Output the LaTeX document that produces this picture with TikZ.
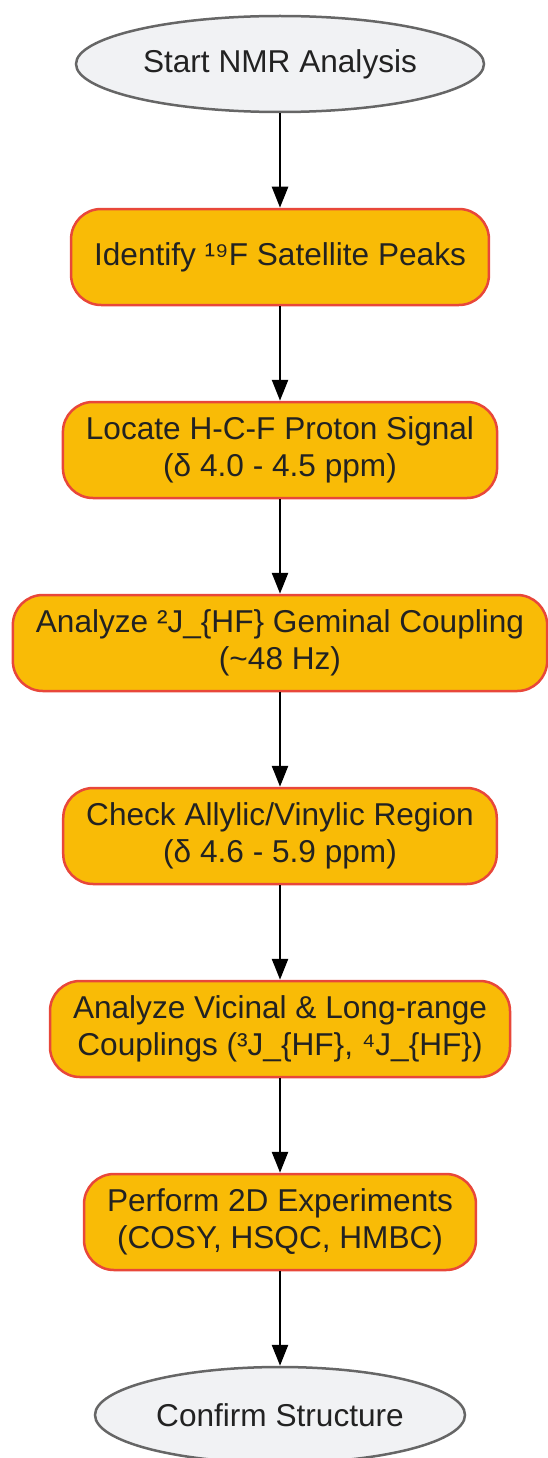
\documentclass[tikz,border=0pt]{standalone}
\usepackage{fontspec}
\setmainfont{Liberation Sans}
\usetikzlibrary{arrows.meta,positioning,shapes.geometric}
\definecolor{stepfill}{HTML}{F9BB06}
\definecolor{stepdraw}{HTML}{E8473A}
\definecolor{termfill}{HTML}{F1F2F4}
\definecolor{termdraw}{HTML}{666666}
\definecolor{txt}{HTML}{222222}

\begin{document}
\begin{tikzpicture}[x=1pt,y=-1pt,node distance=193pt,on grid,
    every node/.style={text=txt,font=\fontsize{31.6}{37}\selectfont,align=center}]
  \tikzstyle{nodeT}=[ellipse,line width=2.5pt,draw=termdraw,fill=termfill,inner sep=0pt,minimum height=96pt]
  \tikzstyle{nodeS}=[rectangle,rounded corners=30pt,line width=2.5pt,draw=stepdraw,fill=stepfill,inner xsep=23pt,minimum height=96pt]
  \tikzstyle{flow}=[line width=2.5pt,-{Triangle[length=21pt,width=16pt]}]

  \useasboundingbox (0,0) rectangle (547,1458);

  \node[nodeT,minimum width=408pt] (start)     at (280,64) {Start NMR Analysis};
  \node[nodeS] (satellite) [below=of start]     {Identify ¹⁹F Satellite Peaks};
  \node[nodeS] (locate)    [below=of satellite] {Locate H-C-F Proton Signal\\(δ 4.0 - 4.5 ppm)};
  \node[nodeS] (geminal)   [below=of locate]    {Analyze ²J\_\{HF\} Geminal Coupling\\(\textasciitilde{}48 Hz)};
  \node[nodeS] (allylic)   [below=of geminal]   {Check Allylic/Vinylic Region\\(δ 4.6 - 5.9 ppm)};
  \node[nodeS] (vicinal)   [below=of allylic]   {Analyze Vicinal \& Long-range\\Couplings (³J\_\{HF\}, ⁴J\_\{HF\})};
  \node[nodeS] (twod)      [below=of vicinal]   {Perform 2D Experiments\\(COSY, HSQC, HMBC)};
  \node[nodeT,minimum width=370pt] (confirm) [below=of twod] {Confirm Structure};

  \draw[flow] (start) -- (satellite);
  \draw[flow] (satellite) -- (locate);
  \draw[flow] (locate) -- (geminal);
  \draw[flow] (geminal) -- (allylic);
  \draw[flow] (allylic) -- (vicinal);
  \draw[flow] (vicinal) -- (twod);
  \draw[flow] (twod) -- (confirm);
\end{tikzpicture}
\end{document}
